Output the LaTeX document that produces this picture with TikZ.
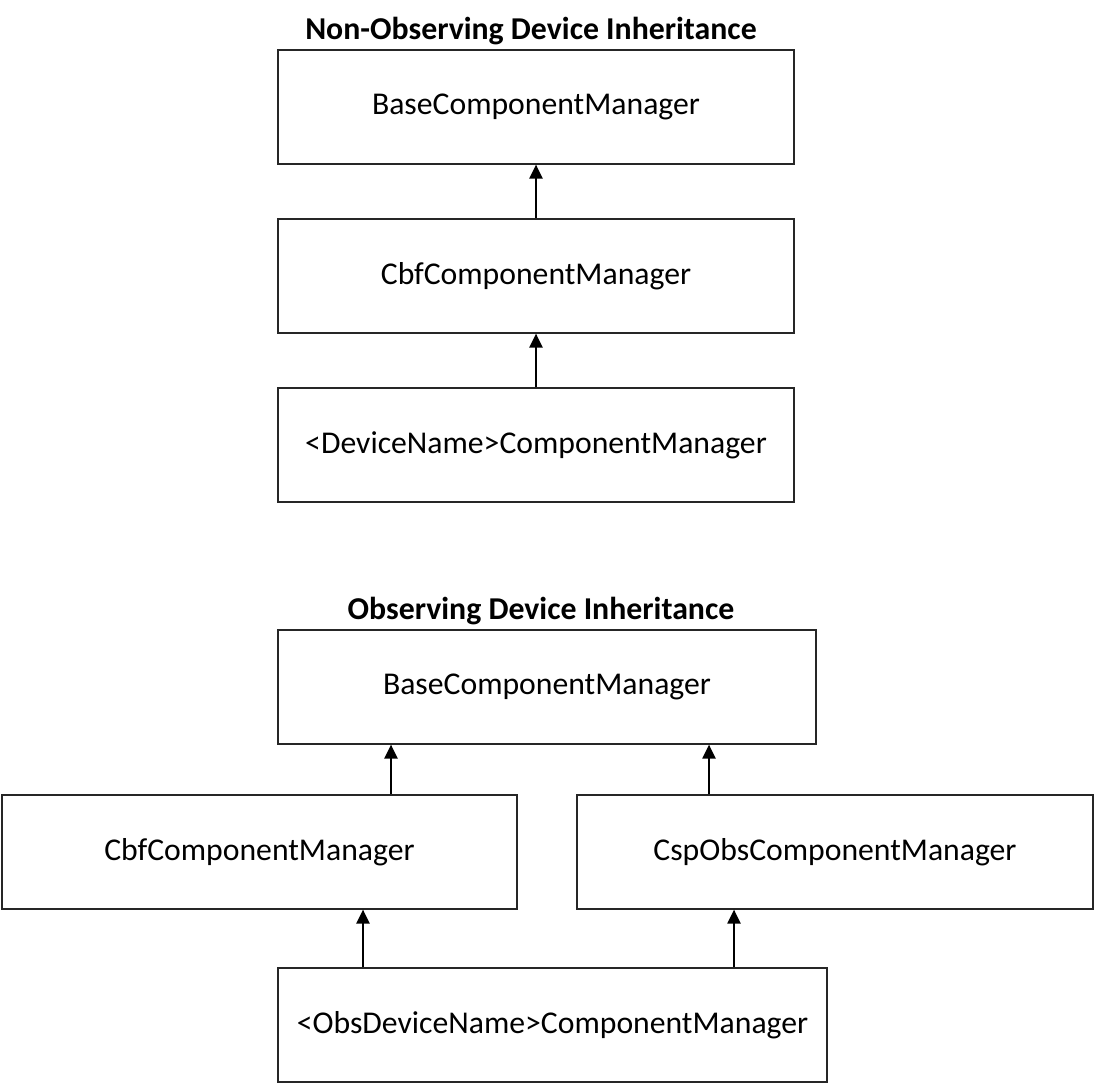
\documentclass[tikz,border=0pt]{standalone}
\usepackage{fontspec}
\setmainfont{Carlito}
\usetikzlibrary{arrows.meta}

\begin{document}
\begin{tikzpicture}[x=1pt, y=-1pt,
            every node/.style={draw=black!85, line width=1.2pt, rectangle,
                minimum height=114pt, inner sep=0pt,
                font=\fontsize{31.7}{38}\selectfont},
            title/.style={draw=none, minimum height=0pt,
                font=\fontsize{31.8}{38}\selectfont\bfseries},
            inh/.style={-{Triangle[length=14pt,width=13pt]}, line width=2.2pt}]
            \useasboundingbox (0,0) rectangle (1095,1085);
            % non-observing device
            \node[title] (t1) at (531,31) {Non-Observing Device Inheritance};
            \node[minimum width=516pt] (base1) at (536,107) {BaseComponentManager};
            \node[minimum width=516pt] (cbf1) at (536,276) {CbfComponentManager};
            \node[minimum width=516pt] (dev1) at (536,445) {<DeviceName>ComponentManager};
            \draw[inh] (cbf1) -- (base1);
            \draw[inh] (dev1) -- (cbf1);
            % observing device
            \node[title] (t2) at (541,611) {Observing Device Inheritance};
            \node[minimum width=538pt] (base2) at (547,687) {BaseComponentManager};
            \node[minimum width=515pt] (cbf2) at (259.5,852) {CbfComponentManager};
            \node[minimum width=516pt] (csp2) at (835,852) {CspObsComponentManager};
            \node[minimum width=549pt] (obs2) at (552.5,1025) {<ObsDeviceName>ComponentManager};
            \coordinate (a1) at (391,0);
            \coordinate (a2) at (709,0);
            \coordinate (a3) at (363,0);
            \coordinate (a4) at (734,0);
            \draw[inh] (cbf2.north -| a1) -- (base2.south -| a1);
            \draw[inh] (csp2.north -| a2) -- (base2.south -| a2);
            \draw[inh] (obs2.north -| a3) -- (cbf2.south -| a3);
            \draw[inh] (obs2.north -| a4) -- (csp2.south -| a4);
        \end{tikzpicture}
\end{document}
